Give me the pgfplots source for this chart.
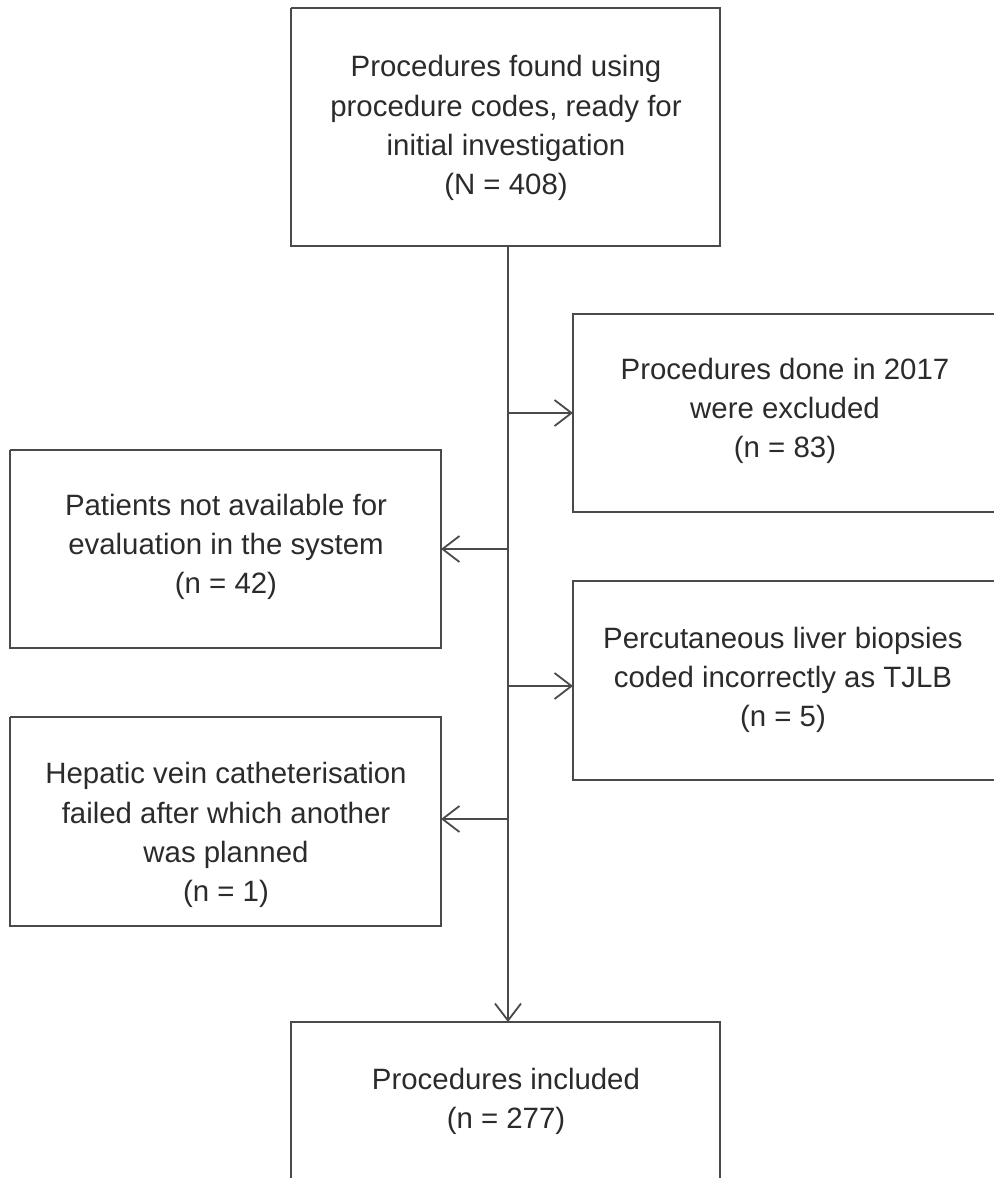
\documentclass[border=0pt]{standalone}
\usepackage{fontspec}
\setmainfont{Liberation Sans}
\usepackage{pgfplots}
\pgfplotsset{compat=1.18}
\usetikzlibrary{arrows.meta}
\definecolor{ln}{HTML}{4A4A4A}
\definecolor{tx}{HTML}{2B2B2B}

\begin{document}
\begin{tikzpicture}[
  box/.style={ln, solid, line width=0.9pt, line join=miter},
  arr/.style={box, -{Straight Barb[length=8.5pt,width=13pt,line width=0.9pt]}},
  lbl/.style={font=\fontsize{14.7}{19.6}\selectfont, text=tx, align=center, inner sep=0pt}]
\begin{axis}[
  scale only axis, width=497pt, height=589pt,
  xmin=0, xmax=994, ymin=0, ymax=1178, y dir=reverse,
  hide axis, clip=true,
  every axis plot/.append style={no marks}]
% boxes (pixel coordinates, y downwards)
\addplot[box] coordinates {(291,8) (720,8) (720,246) (291,246) (291,8)};
\addplot[box] coordinates {(1000,314) (573,314) (573,512) (1000,512)};
\addplot[box] coordinates {(10,450) (441,450) (441,648) (10,648) (10,450)};
\addplot[box] coordinates {(1000,581) (573,581) (573,780) (1000,780)};
\addplot[box] coordinates {(10,717) (441,717) (441,926) (10,926) (10,717)};
\addplot[box] coordinates {(291,1190) (291,1022) (720,1022) (720,1190)};
% main flow line and side arrows
\addplot[arr] coordinates {(508,246) (508,1022)};
\addplot[arr] coordinates {(508,413) (573,413)};
\addplot[arr] coordinates {(508,549) (441,549)};
\addplot[arr] coordinates {(508,686) (573,686)};
\addplot[arr] coordinates {(508,819) (441,819)};
% labels
\node[lbl] at (axis cs:506,128) {Procedures found using\\procedure codes, ready for\\initial investigation\\(N = 408)};
\node[lbl] at (axis cs:785,411) {Procedures done in 2017\\were excluded\\(n = 83)};
\node[lbl] at (axis cs:226,547) {Patients not available for\\evaluation in the system\\(n = 42)};
\node[lbl] at (axis cs:783,680) {Percutaneous liver biopsies\\coded incorrectly as TJLB\\(n = 5)};
\node[lbl] at (axis cs:226,835) {Hepatic vein catheterisation\\failed after which another\\was planned\\(n = 1)};
\node[lbl] at (axis cs:506,1101) {Procedures included\\(n = 277)};
\end{axis}
\pgfresetboundingbox
\useasboundingbox (0,0) rectangle (497pt,589pt);
\end{tikzpicture}
\end{document}
